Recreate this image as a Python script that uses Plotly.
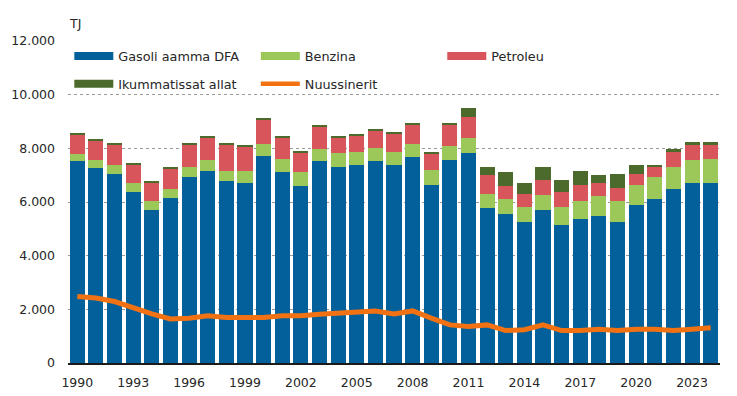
import plotly.graph_objects as go

years = [str(y) for y in range(1990, 2025)]
gasoli = [7510, 7260, 7040, 6380, 5720, 6160, 6950, 7170, 6780, 6710,
          7720, 7110, 6600, 7510, 7320, 7380, 7510, 7380, 7670, 6650,
          7560, 7830, 5770, 5550, 5260, 5710, 5150, 5380, 5480, 5260,
          5870, 6100, 6480, 6710, 6710]
benzina = [270, 300, 330, 330, 330, 330, 370, 390, 370, 440,
           460, 480, 520, 480, 510, 500, 490, 500, 510, 560,
           540, 560, 530, 550, 550, 540, 660, 650, 730, 770,
           780, 830, 840, 840, 900]
petroleu = [730, 730, 770, 680, 690, 740, 820, 850, 990, 930,
            890, 820, 730, 830, 580, 590, 680, 690, 690, 580,
            760, 780, 700, 500, 490, 560, 570, 620, 490, 510,
            400, 390, 570, 610, 550]
ikummatissat = [40, 40, 40, 40, 40, 40, 40, 40, 40, 40,
                40, 40, 40, 50, 40, 40, 40, 40, 40, 40,
                100, 350, 320, 510, 400, 510, 450, 510, 290, 510,
                330, 60, 70, 70, 70]
nuussinerit = [2480, 2420, 2290, 2040, 1830, 1640, 1670, 1760, 1700, 1700,
               1700, 1760, 1760, 1820, 1860, 1880, 1940, 1830, 1940, 1670,
               1420, 1360, 1420, 1210, 1240, 1420, 1210, 1210, 1260, 1210,
               1260, 1260, 1210, 1260, 1310]
tick_years = years[::3]

names = ["Gasoli aamma DFA", "Benzina", "Petroleu", "Ikummatissat allat", "Nuussinerit"]
C_BLUE = "#03609a"
C_GREEN = "#9cc85a"
C_RED = "#d8555b"
C_DKGREEN = "#4b6a2b"
C_ORANGE = "#f27213"

FONT = "DejaVu Sans"
FS = 12.5
FS_LEG = 12.8
TXT = "#262626"

fig = go.Figure()
for vals, name, col in [(gasoli, names[0], C_BLUE), (benzina, names[1], C_GREEN),
                        (petroleu, names[2], C_RED), (ikummatissat, names[3], C_DKGREEN)]:
    fig.add_trace(go.Bar(x=years, y=vals, name=name, marker=dict(color=col, line=dict(width=0)),
                         showlegend=False))
fig.add_trace(go.Scatter(x=years, y=nuussinerit, name=names[4], mode="lines",
                         line=dict(color=C_ORANGE, width=5), showlegend=False))

# legend entries (row 1 / row 2)
for name, col, lg, w in [(names[0], C_BLUE, "legend", 8), (names[1], C_GREEN, "legend", 8),
                         (names[2], C_RED, "legend", 8), (names[3], C_DKGREEN, "legend2", 8),
                         (names[4], C_ORANGE, "legend2", 4.5)]:
    fig.add_trace(go.Scatter(x=[None], y=[None], mode="lines", name=name,
                             line=dict(color=col, width=w), legend=lg, showlegend=True))

legend_common = dict(orientation="h", xanchor="left", yanchor="middle",
                     bgcolor="rgba(0,0,0,0)", itemwidth=39, entrywidth=132.5,
                     entrywidthmode="pixels", font=dict(family=FONT, size=FS_LEG, color=TXT),
                     traceorder="normal", itemclick=False, itemdoubleclick=False)

fig.update_layout(
    width=737, height=396,
    margin=dict(l=68, r=17, t=41, b=33, autoexpand=False),
    paper_bgcolor="white", plot_bgcolor="white",
    barmode="stack", bargap=0.19,
    separators=",.",
    font=dict(family=FONT, size=FS, color=TXT),
    legend=dict(x=0.002, y=0.953, **legend_common),
    legend2=dict(x=0.002, y=0.8665, **legend_common),
    xaxis=dict(type="category", tickvals=tick_years, ticktext=tick_years,
               showline=True, linecolor="#1a1a1a", linewidth=1.5, automargin=False,
               ticks="", showgrid=False, ticklabelstandoff=7,
               tickfont=dict(family=FONT, size=FS, color=TXT)),
    yaxis=dict(range=[0, 12000], dtick=2000, tickformat=",d", automargin=False,
               showgrid=True, gridcolor="#9a9a9a", griddash="dot", gridwidth=1,
               zeroline=False, showline=False, ticks="", ticklabelstandoff=12,
               tickfont=dict(family=FONT, size=FS, color=TXT)),
    annotations=[dict(text="TJ", xref="paper", yref="paper", x=-0.0015, y=1.0528,
                      xanchor="left", yanchor="middle", showarrow=False,
                      font=dict(family=FONT, size=FS, color=TXT))],
)

# remove the browser's default 8px body margin so the figure fills the window exactly
fig.write_html("out.html", config={"displayModeBar": False},
               post_script="document.body.style.margin='0';document.body.style.overflow='hidden';")
